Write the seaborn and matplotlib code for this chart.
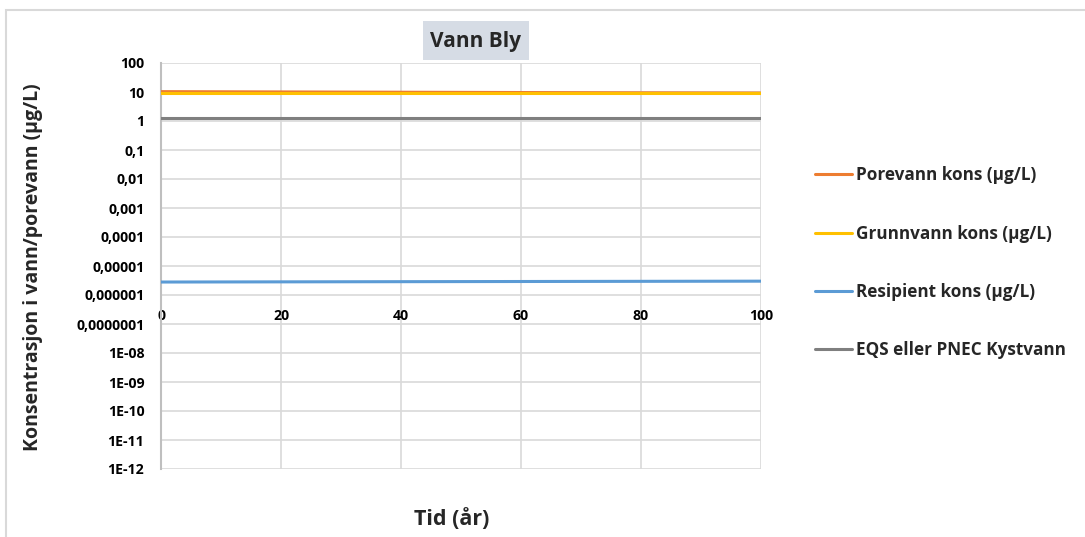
import numpy as np
import pandas as pd
import matplotlib
matplotlib.use("Agg")
import matplotlib.pyplot as plt
from matplotlib.patches import Rectangle
import seaborn as sns

# Time axis (years) and concentrations (µg/L)
years = [0, 25, 50, 75, 100]
porevann = [10.3, 10.0, 9.7, 9.4, 9.2]
grunnvann = [9.0, 9.0, 9.0, 9.0, 9.0]
resipient = [2.8e-6, 2.85e-6, 2.9e-6, 2.95e-6, 3.0e-6]
eqs = [1.3, 1.3, 1.3, 1.3, 1.3]

series_names = [
    "Porevann kons (µg/L)",
    "Grunnvann kons (µg/L)",
    "Resipient kons (µg/L)",
    "EQS eller PNEC Kystvann",
]
series_colors = ["#ED7D31", "#FFC000", "#5B9BD5", "#7F7F7F"]

y_ticks = [1e2, 1e1, 1, 1e-1, 1e-2, 1e-3, 1e-4, 1e-5, 1e-6, 1e-7,
           1e-8, 1e-9, 1e-10, 1e-11, 1e-12]
y_tick_labels = ["100", "10", "1", "0,1", "0,01", "0,001", "0,0001",
                 "0,00001", "0,000001", "0,0000001", "1E-08", "1E-09",
                 "1E-10", "1E-11", "1E-12"]
x_ticks = [0, 20, 40, 60, 80, 100]

df = pd.DataFrame({
    "Tid": years * 4,
    "Kons": porevann + grunnvann + resipient + eqs,
    "Serie": sum([[n] * len(years) for n in series_names], []),
})

sns.set_style("white")
plt.rcParams["font.family"] = ["Open Sans", "DejaVu Sans"]
plt.rcParams["font.weight"] = "bold"

W, H = 1085, 537
fig = plt.figure(figsize=(W / 100, H / 100), dpi=100)
fig.patch.set_facecolor("white")

# outer chart border
fig.patches.append(Rectangle((6 / W, -0.01), 1.02, 1 - 10 / H + 0.01,
                             transform=fig.transFigure, fill=False,
                             edgecolor="#D9D9D9", linewidth=1.5, zorder=0))

ax = fig.add_axes([161 / W, (H - 469) / H, 600 / W, 406 / H])
sns.lineplot(data=df, x="Tid", y="Kons", hue="Serie", hue_order=series_names,
             palette=series_colors, linewidth=2.2, ax=ax, legend=False,
             zorder=3)

ax.set_yscale("log")
ax.set_ylim(1e-12, 100)
ax.set_xlim(0, 100)
ax.set_yticks(y_ticks)
ax.set_yticklabels(y_tick_labels)
ax.minorticks_off()
ax.set_xticks(x_ticks)
ax.set_xticklabels([str(v) for v in x_ticks])

ax.grid(True, color="#D9D9D9", linewidth=1.2, zorder=0)
for s in ["top", "right"]:
    ax.spines[s].set_visible(False)
ax.spines["left"].set_color("#BFBFBF")
ax.spines["left"].set_linewidth(1.5)
ax.spines["bottom"].set_position(("data", 1e-6))
ax.spines["bottom"].set_visible(False)
ax.tick_params(axis="both", length=0, labelsize=10.2, colors="black")
ax.tick_params(axis="x", pad=10)
ax.tick_params(axis="y", pad=12)
for lab in ax.get_xticklabels() + ax.get_yticklabels():
    lab.set_fontweight("bold")

ax.set_xlabel("")
ax.set_ylabel("")
fig.text(452 / W, 1 - 519 / H, "Tid (år)", ha="center", va="center",
         fontsize=15.5, fontweight="bold")
fig.text(33 / W, 1 - 267 / H, "Konsentrasjon i vann/porevann (µg/L)",
         ha="center", va="center", rotation=90, fontsize=14,
         fontweight="bold")

# title with shaded box
fig.patches.append(Rectangle((423 / W, 1 - 60 / H), 106 / W, 39 / H,
                             transform=fig.transFigure, facecolor="#D6DCE5",
                             edgecolor="none", zorder=1))
fig.text(476 / W, 1 - 42 / H, "Vann Bly", ha="center", va="center",
         fontsize=15, fontweight="bold", zorder=2)

handles = [plt.Line2D([0], [0], color=c, linewidth=2.2) for c in series_colors]
leg = fig.legend(handles, series_names, loc="upper left",
                 bbox_to_anchor=(800 / W, 1 - 151 / H), frameon=False,
                 labelspacing=2.35, handlelength=2.16,
                 handletextpad=0.23, prop={"weight": "bold", "size": 12.3})

fig.savefig("out.png", dpi=100)
